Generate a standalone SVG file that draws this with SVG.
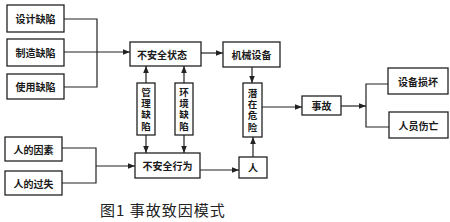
<svg xmlns="http://www.w3.org/2000/svg" width="450" height="222" viewBox="0 0 450 222">
<style>
.b{fill:#fff;stroke:#222;stroke-width:1.3}
.t{font-family:"Noto Sans CJK SC","Noto Sans",sans-serif;font-size:10px;font-weight:bold;fill:#1a1a1a;text-anchor:middle;dominant-baseline:central}
.v{font-size:9.5px;writing-mode:vertical-rl;letter-spacing:1.8px}
.c{fill:none;stroke:#222;stroke-width:1.2}
.cap{font-family:"Noto Sans CJK SC","Liberation Serif",serif;font-size:15px;letter-spacing:1px;fill:#222}
</style>
<defs>
<marker id="a" viewBox="0 0 10 10" refX="10" refY="5" markerWidth="7" markerHeight="7" orient="auto" markerUnits="userSpaceOnUse"><path d="M0,1 L10,5 L0,9 z" fill="#222"/></marker>
</defs>
<rect width="450" height="222" fill="#fff"/>
<g id="connectors">
<path class="c" d="M64,19 H97 V87 H64"/>
<path class="c" d="M64,52 H130" marker-end="url(#a)"/>
<path class="c" d="M201,53 H223" marker-end="url(#a)"/>
<path class="c" d="M146,83 V66" marker-end="url(#a)"/>
<path class="c" d="M184,83 V66" marker-end="url(#a)"/>
<path class="c" d="M146,135 V153" marker-end="url(#a)" stroke="#777"/>
<path class="c" d="M184,135 V153" marker-end="url(#a)"/>
<path class="c" d="M62,148 H96 V183 H62"/>
<path class="c" d="M96,166 H135" marker-end="url(#a)" stroke="#777"/>
<path class="c" d="M200,170 H239" marker-end="url(#a)"/>
<path class="c" d="M252,67 V83" marker-end="url(#a)"/>
<path class="c" d="M253,157 V137" marker-end="url(#a)"/>
<path class="c" d="M262,107 H302" marker-end="url(#a)"/>
<path class="c" d="M341,106 H366" marker-end="url(#a)"/>
<path class="c" d="M388,84 H366 V127 H389"/>
</g>
<g id="n1"><rect class="b" x="7" y="5" width="57" height="27"/><text class="t" x="35.5" y="18.5">设计缺陷</text></g>
<g id="n2"><rect class="b" x="7" y="39" width="57" height="27"/><text class="t" x="35.5" y="52.5">制造缺陷</text></g>
<g id="n3"><rect class="b" x="7" y="74" width="57" height="25"/><text class="t" x="35.5" y="86.5">使用缺陷</text></g>
<g id="n4"><rect class="b" x="130" y="42" width="71" height="24"/><text class="t" x="162" y="54">不安全状态</text></g>
<g id="n5"><rect class="b" x="223" y="42" width="57" height="25"/><text class="t" x="251.5" y="54.5">机械设备</text></g>
<g id="n6"><rect class="b" x="137" y="83" width="18" height="52"/><text class="t v" x="146" y="110">管理缺陷</text></g>
<g id="n7"><rect class="b" x="175" y="83" width="18" height="52"/><text class="t v" x="184" y="110">环境缺陷</text></g>
<g id="n8"><rect class="b" x="5" y="137" width="57" height="24"/><text class="t" x="33.5" y="149">人的因素</text></g>
<g id="n9"><rect class="b" x="5" y="171" width="57" height="24"/><text class="t" x="33.5" y="183">人的过失</text></g>
<g id="n10"><rect class="b" x="135" y="153" width="65" height="25"/><text class="t" x="167.5" y="165.5">不安全行为</text></g>
<g id="n11"><rect class="b" x="239" y="157" width="28" height="21"/><text class="t" x="253" y="167.5">人</text></g>
<g id="n12"><rect class="b" x="243" y="83" width="19" height="54"/><text class="t v" x="252.5" y="111">潜在危险</text></g>
<g id="n13"><rect class="b" x="302" y="96" width="39" height="19"/><text class="t" x="321.5" y="105.5">事故</text></g>
<g id="n14"><rect class="b" x="388" y="68" width="60" height="26"/><text class="t" x="418" y="81">设备损坏</text></g>
<g id="n15"><rect class="b" x="389" y="112" width="59" height="26"/><text class="t" x="418.5" y="125">人员伤亡</text></g>
<text class="cap" x="100" y="216">图1 事故致因模式</text>
</svg>
